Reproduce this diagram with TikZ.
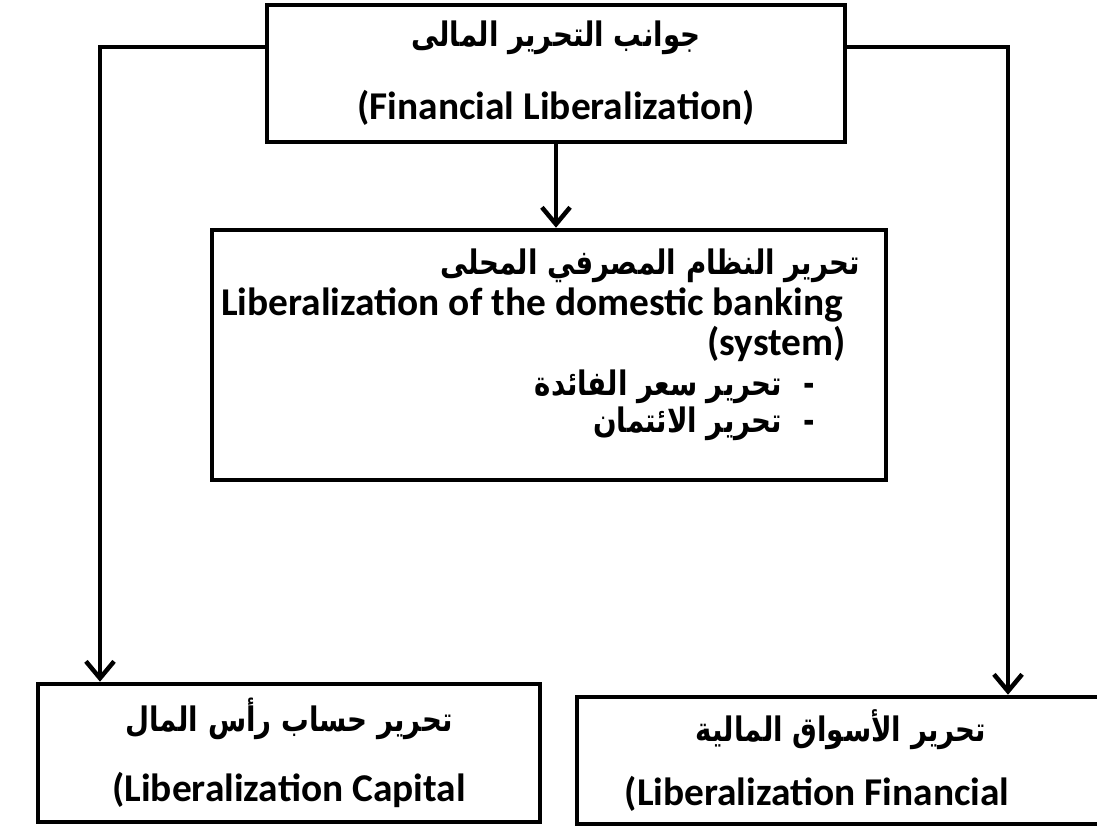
\documentclass[tikz,border=0pt]{standalone}
\usepackage{fontspec}
\setmainfont{Carlito}
\newfontfamily\arabicfont[Script=Arabic, FakeStretch=0.82]{DejaVu Sans}
\TeXXeTstate=1
\usetikzlibrary{arrows.meta, positioning}

\newcommand{\artext}[1]{{\arabicfont\bfseries\fontsize{24}{24}\selectfont\beginR #1\endR}}

\begin{document}
\begin{tikzpicture}[
  x=0.025cm, y=-0.025cm,
  box/.style={draw, line width=3.2pt, inner sep=0pt, align=center,
              font=\bfseries\fontsize{28}{50}\selectfont},
  arr/.style={-{Straight Barb[length=12pt, width=20pt]}, line width=3.2pt}
]
  \useasboundingbox (0,0) rectangle (1097,827);

  \node[box, minimum width=14.45cm, minimum height=3.425cm] (top) at (556,73.5)
    {\artext{جوانب التحرير المالى}\\[2pt] (Financial Liberalization)};
  \node[box, minimum width=16.85cm, minimum height=6.25cm] (bank) at (549,355) {};
  \node[anchor=north east, align=right, inner sep=0pt,
        font=\bfseries\fontsize{28}{28.5}\selectfont] (banktxt) at (860,249)
    {\artext{تحرير النظام المصرفي المحلى}\\
     Liberalization of the domestic banking\hspace*{12pt}\mbox{}\\
     (system)\hspace*{10pt}\mbox{}\\
     \artext{-\hspace{15pt}تحرير سعر الفائدة}\hspace*{32pt}\mbox{}\\[-2pt]
     \artext{-\hspace{15pt}تحرير الائتمان}\hspace*{32pt}\mbox{}};
  \node[box, minimum width=12.55cm, minimum height=3.45cm] (cap) at (289,753)
    {\artext{تحرير حساب رأس المال}\\ (Liberalization Capital};
  \node[box, minimum width=13.2cm, minimum height=3.175cm] (mkt) at (841,760.5)
    {\artext{تحرير الأسواق المالية}\\[-4pt]
     (Liberalization Financial\hspace*{34pt}\mbox{}};

  \coordinate (lcorner) at (100,47);
  \coordinate (rcorner) at (1008,47);

  \draw[arr] (top.south) -- (top.south |- bank.north);
  \draw[arr] (top.west |- lcorner) -- (lcorner) -- (lcorner |- cap.north);
  \draw[arr] (top.east |- rcorner) -- (rcorner) -- (rcorner |- mkt.north);
\end{tikzpicture}
\end{document}
